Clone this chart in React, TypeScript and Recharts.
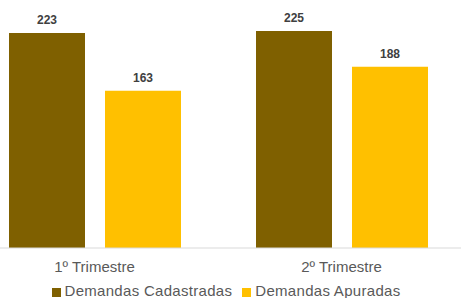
import { BarChart, Bar, XAxis, YAxis, Legend, LabelList } from 'recharts';

const trimestres = ['1º Trimestre', '2º Trimestre'];
const cadastradas = [223, 225];
const apuradas = [163, 188];
const seriesOrder = ['Demandas Cadastradas', 'Demandas Apuradas'];

const data = trimestres.map((t, i) => ({
  name: t,
  'Demandas Cadastradas': cadastradas[i],
  'Demandas Apuradas': apuradas[i],
}));

const textGray = '#595959';

export default function App() {
  return (
    <div
      style={{
        position: 'absolute',
        left: 0,
        top: 0,
        width: 461,
        height: 298,
        overflow: 'hidden',
        background: '#fff',
        fontFamily: '"Liberation Sans", Arial, sans-serif',
      }}
    >
      <div style={{ marginLeft: -29 }}>
        <BarChart
          width={494}
          height={303}
          data={data}
          margin={{ top: 7, right: 0, left: 0, bottom: 0 }}
          barSize={76}
          barGap={20}
        >
          <XAxis
            dataKey="name"
            tickLine={false}
            axisLine={{ stroke: '#d9d9d9' }}
            tick={{ fill: textGray, fontSize: 15 }}
            tickMargin={7}
            height={34}
          />
          <YAxis hide domain={[0, 250]} />
          <Legend
            verticalAlign="bottom"
            height={21}
            iconType="square"
            iconSize={9}
            itemSorter={(item: any) => seriesOrder.indexOf(item.value)}
            wrapperStyle={{ paddingLeft: 13, fontSize: 15, letterSpacing: 0.3, color: textGray }}
            formatter={(value: string) => <span style={{ color: textGray }}>{value}</span>}
          />
          <Bar dataKey="Demandas Cadastradas" fill="#7F6000" isAnimationActive={false}>
            <LabelList dataKey="Demandas Cadastradas" position="top" offset={9} fill="#404040" fontSize={12} fontWeight="bold" />
          </Bar>
          <Bar dataKey="Demandas Apuradas" fill="#FFC000" isAnimationActive={false}>
            <LabelList dataKey="Demandas Apuradas" position="top" offset={9} fill="#404040" fontSize={12} fontWeight="bold" />
          </Bar>
        </BarChart>
      </div>
    </div>
  );
}
